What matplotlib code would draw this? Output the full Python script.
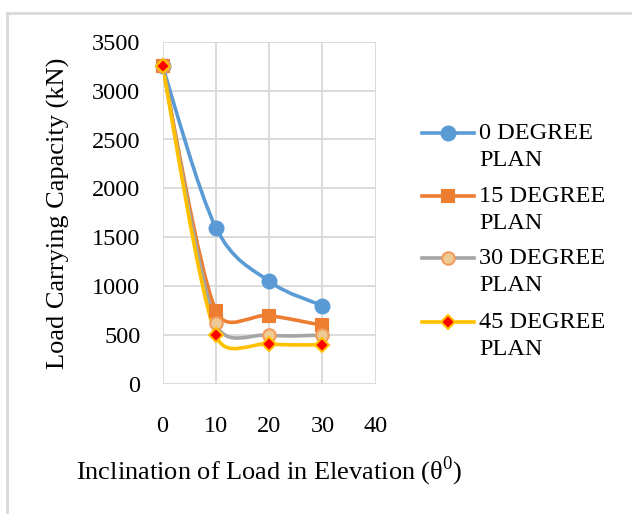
import numpy as np
import matplotlib
matplotlib.use('Agg')
from matplotlib import pyplot as plt
from matplotlib.path import Path
from matplotlib.patches import PathPatch
from matplotlib.lines import Line2D

plt.rcParams['font.family'] = ['Liberation Serif', 'DejaVu Serif']
plt.rcParams['mathtext.fontset'] = 'custom'
plt.rcParams['mathtext.rm'] = 'Liberation Serif'

## data
inclination = [0, 10, 20, 30]
plan_labels = ['0 DEGREE\nPLAN', '15 DEGREE\nPLAN', '30 DEGREE\nPLAN', '45 DEGREE\nPLAN']
cap_0 = [3250, 1600, 1050, 800]
cap_15 = [3250, 750, 700, 600]
cap_30 = [3250, 620, 500, 500]
cap_45 = [3250, 500, 410, 400]
series = [cap_0, cap_15, cap_30, cap_45]

## styles (line colour, marker, face, edge, size)
styles = [('#5b9bd5', 'o', '#5b9bd5', '#5b9bd5', 10),
          ('#ed7d31', 's', '#ed7d31', '#ed7d31', 9),
          ('#a5a5a5', 'o', '#eecb94', '#f09a5c', 9),
          ('#ffc000', 'D', '#ff0000', '#ffc000', 7.5)]

W, H = 632, 514
fig = plt.figure(figsize=(W/100., H/100.), dpi=100)

## light outer frame like the excel chart area
fig.add_artist(Line2D([7/W, 7/W], [0, 1-13/H], color='#d9d9d9', lw=2))
fig.add_artist(Line2D([7/W, 1], [1-13/H, 1-13/H], color='#d9d9d9', lw=2))

ax = fig.add_axes([162.5/W, 1-384/H, 213.3/W, 342.3/H])
ax.set_xlim(0, 40)
ax.set_ylim(0, 3500)
ax.set_xticks([0, 10, 20, 30, 40])
ax.set_yticks(np.arange(0, 3501, 500))
ax.grid(True, color='#d9d9d9', lw=1.3)
ax.set_axisbelow(True)
for s in ax.spines.values():
    s.set_visible(False)
ax.tick_params(axis='both', length=0, labelsize=17.5)
ax.tick_params(axis='x', pad=23)
ax.tick_params(axis='y', pad=16)
ax.set_ylabel('Load Carrying Capacity (kN)', fontsize=19, labelpad=16)
ax.set_xlabel('Inclination of Load in Elevation (θ$^{\\mathrm{0}}$)', fontsize=19, labelpad=13)


def excel_smooth(ax, xs, ys):
    ## bezier smoothing done in screen space, control arm capped at half segment
    pts = ax.transData.transform(np.column_stack([xs, ys]))
    n = len(pts)
    verts = [pts[0]]
    codes = [Path.MOVETO]
    for i in range(n-1):
        p0 = pts[i-1] if i > 0 else pts[i]
        p1 = pts[i]
        p2 = pts[i+1]
        p3 = pts[i+2] if i+2 < n else pts[i+1]
        half = np.hypot(*(p2-p1))/2.
        v1 = (p2-p0)/6.
        v2 = (p3-p1)/6.
        l1 = np.hypot(*v1)
        l2 = np.hypot(*v2)
        if l1 > half:
            v1 = v1*half/l1
        if l2 > half:
            v2 = v2*half/l2
        verts += [p1+v1, p2-v2, p2]
        codes += [Path.CURVE4]*3
    data = ax.transData.inverted().transform(np.array(verts))
    return Path(data, codes)


for vals, (lc, mk, mf, me, ms) in zip(series, styles):
    path = excel_smooth(ax, inclination, vals)
    ax.add_patch(PathPatch(path, fill=False, edgecolor=lc, lw=2.6, zorder=3))
    ax.plot(inclination, vals, linestyle='none', marker=mk, markersize=ms,
            markerfacecolor=mf, markeredgecolor=me, markeredgewidth=1.5, zorder=4, clip_on=False)

## legend drawn by hand so the symbol sits on the first text line
leg_y = [133, 196, 258, 322]
for lab, (lc, mk, mf, me, ms), y in zip(plan_labels, styles, leg_y):
    fig.add_artist(Line2D([422/W, 474/W], [1-y/H, 1-y/H], color=lc, lw=2.6))
    fig.add_artist(Line2D([448/W], [1-y/H], marker=mk, markersize=ms,
                          markerfacecolor=mf, markeredgecolor=me, markeredgewidth=1.5))
    fig.text(479/W, 1-(y-10)/H, lab, fontsize=17.5, va='top', ha='left', linespacing=1.4)

fig.savefig('out.png', dpi=100)
